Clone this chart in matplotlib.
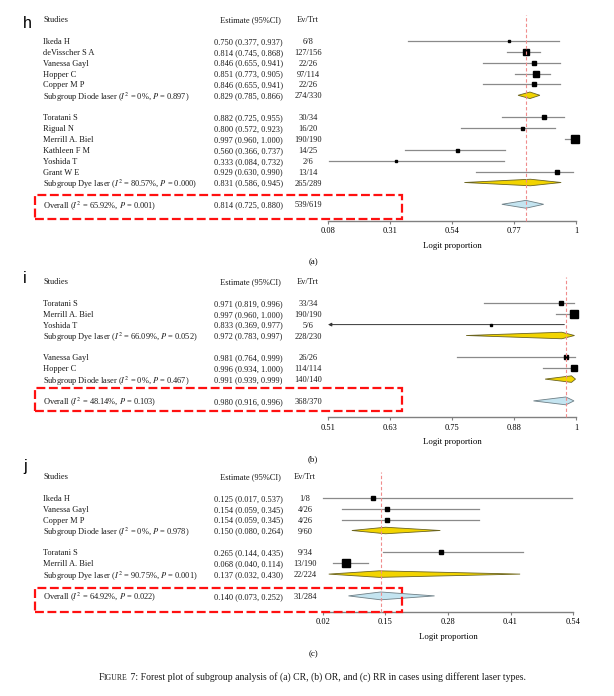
import matplotlib
matplotlib.use('Agg')
import matplotlib.pyplot as plt
import matplotlib.transforms as mtransforms
from matplotlib.patches import Polygon, Rectangle
import numpy as np

plt.rcParams['font.family'] = ['Liberation Serif', 'DejaVu Serif']
plt.rcParams['mathtext.fontset'] = 'stix'

# (a) CR
a_labels = ['Ikeda H', 'deVisscher S A', 'Vanessa Gayl', 'Hopper C', 'Copper M P',
            r'Subgroup Diode laser ($I^2$ = 0%, $P$ = 0.897)',
            'Toratani S', 'Rigual N', 'Merrill A. Biel', 'Kathleen F M', 'Yoshida T', 'Grant W E',
            r'Subgroup Dye laser ($I^2$ = 80.57%, $P$ = 0.000)',
            r'Overall ($I^2$ = 65.92%, $P$ = 0.001)']
a_est = [0.750, 0.814, 0.846, 0.851, 0.846, 0.829, 0.882, 0.800, 0.997, 0.560, 0.333, 0.929, 0.831, 0.814]
a_lo = [0.377, 0.745, 0.655, 0.773, 0.655, 0.785, 0.725, 0.572, 0.960, 0.366, 0.084, 0.630, 0.586, 0.725]
a_hi = [0.937, 0.868, 0.941, 0.905, 0.941, 0.866, 0.955, 0.923, 1.000, 0.737, 0.732, 0.990, 0.945, 0.880]
a_evtrt = ['6/8', '127/156', '22/26', '97/114', '22/26', '274/330',
           '30/34', '16/20', '190/190', '14/25', '2/6', '13/14', '265/289', '539/619']
a_wt = [7, 30, 10, 30, 10, 16, 9, 72, 9, 6, 12]
a_ticks = ['0.08', '0.31', '0.54', '0.77', '1']

# (b) OR
b_labels = ['Toratani S', 'Merrill A. Biel', 'Yoshida T',
            r'Subgroup Dye laser ($I^2$ = 66.09%, $P$ = 0.052)',
            'Vanessa Gayl', 'Hopper C',
            r'Subgroup Diode laser ($I^2$ = 0%, $P$ = 0.467)',
            r'Overall ($I^2$ = 48.14%, $P$ = 0.103)']
b_est = [0.971, 0.997, 0.833, 0.972, 0.981, 0.996, 0.991, 0.980]
b_lo = [0.819, 0.960, 0.369, 0.783, 0.764, 0.934, 0.939, 0.916]
b_hi = [0.996, 1.000, 0.977, 0.997, 0.999, 1.000, 0.999, 0.996]
b_evtrt = ['33/34', '190/190', '5/6', '228/230', '26/26', '114/114', '140/140', '368/370']
b_wt = [16, 80, 6, 12, 42]
b_ticks = ['0.51', '0.63', '0.75', '0.88', '1']

# (c) RR
c_labels = ['Ikeda H', 'Vanessa Gayl', 'Copper M P',
            r'Subgroup Diode laser ($I^2$ = 0%, $P$ = 0.978)',
            'Toratani S', 'Merrill A. Biel',
            r'Subgroup Dye laser ($I^2$ = 90.75%, $P$ = 0.001)',
            r'Overall ($I^2$ = 64.92%, $P$ = 0.022)']
c_est = [0.125, 0.154, 0.154, 0.150, 0.265, 0.068, 0.137, 0.140]
c_lo = [0.017, 0.059, 0.059, 0.080, 0.144, 0.040, 0.032, 0.073]
c_hi = [0.537, 0.345, 0.345, 0.264, 0.435, 0.114, 0.430, 0.252]
c_evtrt = ['1/8', '4/26', '4/26', '9/60', '9/34', '13/190', '22/224', '31/284']
c_wt = [11, 16, 16, 16, 76]
c_ticks = ['0.02', '0.15', '0.28', '0.41', '0.54']

W, H = 614, 696
ROW = 10.9
fig = plt.figure(figsize=(W / 100, H / 100), dpi=100)
fs = 6.0


def fx(px):
    return px / W


def fy(py):
    return 1 - py / H


def panel(letter, letter_y, cap, labels, est, lo, hi, evtrt, wt, ticks,
          head_y, x0, x1, ev_x, box):
    # row index of each line; a blank row after every subgroup line
    rows = []
    r = 2
    for lab in labels:
        rows.append(r)
        r += 2 if lab.startswith('Subgroup') else 1
    bottom = rows[-1] + 1.5
    top_px = head_y - 0.5 * ROW
    bot_px = head_y + bottom * ROW
    ax = fig.add_axes([fx(x0), fy(bot_px), fx(x1 - x0), (bot_px - top_px) / H])
    xmin, xmax = float(ticks[0]), float(ticks[-1])
    ax.set_xlim(xmin, xmax)
    ax.set_ylim(bottom, -0.5)
    ax.patch.set_visible(False)
    for s in ['left', 'top', 'right']:
        ax.spines[s].set_visible(False)
    ax.spines['bottom'].set_color('#808080')
    ax.spines['bottom'].set_linewidth(1.0)
    ax.set_yticks([])
    ax.set_xticks(np.linspace(xmin, xmax, 5))
    ax.set_xticklabels(ticks, fontsize=fs)
    ax.tick_params(axis='x', length=2.5, width=0.8, color='#808080', pad=2)

    tr = mtransforms.blended_transform_factory(fig.transFigure, ax.transData)
    kw = dict(transform=tr, va='center_baseline', fontsize=fs, color='#1a1a1a')
    ax.text(fx(43), 0, 'Studies', **kw)
    ax.text(fx(250), 0, 'Estimate (95%CI)', ha='center', **kw)
    ax.text(fx(ev_x), 0, 'Ev/Trt', ha='center', **kw)

    span = xmax - xmin
    k = 0
    for lab, e, l, h, et, row in zip(labels, est, lo, hi, evtrt, rows):
        ax.text(fx(43), row, lab, **kw)
        ax.text(fx(214), row, '%.3f (%.3f, %.3f)' % (e, l, h), **kw)
        ax.text(fx(ev_x), row, et, ha='center', **kw)
        if lab.startswith('Subgroup') or lab.startswith('Overall'):
            overall = lab.startswith('Overall')
            hh = 0.36 if overall else 0.3
            fc = '#c4e4f0' if overall else '#f2d400'
            ec = '#6e7f86' if overall else '#6b6420'
            ax.add_patch(Polygon([(l, row), (e, row - hh), (h, row), (e, row + hh)],
                                 closed=True, fc=fc, ec=ec, lw=0.6, zorder=3, clip_on=False))
        else:
            if l < xmin - 0.02 * span:
                ax.annotate('', xy=(xmin, row), xytext=(h, row),
                            arrowprops=dict(arrowstyle='-|>', color='#333333', lw=0.7,
                                            mutation_scale=5, shrinkA=0, shrinkB=0))
            else:
                ax.plot([max(l, xmin), h], [row, row], color='#8a8a8a', lw=0.9,
                        clip_on=False, zorder=2)
            ax.plot(e, row, 's', ms=np.sqrt(wt[k]) * 0.72, color='black',
                    zorder=4, clip_on=False)
            k += 1

    ax.plot([est[-1], est[-1]], [bottom, -0.4], color='#f08c8c', lw=0.8,
            ls=(0, (3, 2)), zorder=5, clip_on=False)

    fig.text(fx(23), fy(letter_y), letter, family='Liberation Sans', fontsize=11.5,
             va='baseline', color='black')
    fig.text(fx((x0 + x1) / 2), fy(bot_px + 25), 'Logit proportion', ha='center',
             va='center', fontsize=6.3)
    fig.text(fx(313), fy(bot_px + 42), cap, ha='center', va='center', fontsize=6.3)
    fig.add_artist(Rectangle((fx(35), fy(box[1])), fx(402 - 35), (box[1] - box[0]) / H,
                             transform=fig.transFigure, fill=False, ec='#ff1010', lw=1.6,
                             ls=(0, (4, 1.6)), zorder=6))


panel('h', 28, '(a)', a_labels, a_est, a_lo, a_hi, a_evtrt, a_wt, a_ticks,
      19, 328, 576, 308, (195, 219))
panel('i', 283, '(b)', b_labels, b_est, b_lo, b_hi, b_evtrt, b_wt, b_ticks,
      281, 328, 576, 308, (388, 411))
panel('j', 471, '(c)', c_labels, c_est, c_lo, c_hi, c_evtrt, c_wt, c_ticks,
      476, 323, 573, 305, (588, 612))

# caption with small-caps "Figure"
pieces = [('F', 7.0), ('IGURE', 5.6),
          (' 7: Forest plot of subgroup analysis of (a) CR, (b) OR, and (c) RR in cases using different laser types.', 7.0)]
rend = fig.canvas.get_renderer()
texts = [fig.text(0, fy(680), s, fontsize=sz, va='baseline', color='#1a1a1a') for s, sz in pieces]
widths = [t.get_window_extent(rend).width for t in texts]
x = 312 - sum(widths) / 2
for t, w in zip(texts, widths):
    t.set_x(fx(x))
    x += w

fig.savefig('out.png', dpi=100)
